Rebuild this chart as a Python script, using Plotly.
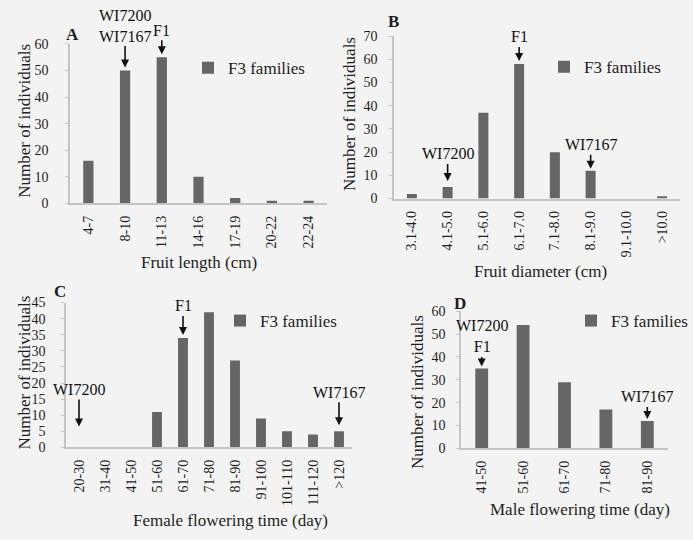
import plotly.graph_objects as go

# ---- data -----------------------------------------------------------------
length_cats = ["4-7", "8-10", "11-13", "14-16", "17-19", "20-22", "22-24"]
length_vals = [16, 50, 55, 10, 2, 1, 1]

diam_cats = ["3.1-4.0", "4.1-5.0", "5.1-6.0", "6.1-7.0", "7.1-8.0", "8.1-9.0",
             "9.1-10.0", ">10.0"]
diam_vals = [2, 5, 37, 58, 20, 12, 0, 1]

female_cats = ["20-30", "31-40", "41-50", "51-60", "61-70", "71-80", "81-90",
               "91-100", "101-110", "111-120", ">120"]
female_vals = [0, 0, 0, 11, 34, 42, 27, 9, 5, 4, 5]

male_cats = ["41-50", "51-60", "61-70", "71-80", "81-90"]
male_vals = [35, 54, 29, 17, 12]

# ---- page geometry (pixels) -----------------------------------------------
W, H = 693, 540
SERIF = "Liberation Serif"
BAR = "#666666"
AXIS = "#c4c4c4"
TXT = "#1e1e1e"
BG = "#f3f3f3"


def xd(left, right):
    return [left / W, right / W]


def yd(top, bottom):
    return [1 - bottom / H, 1 - top / H]


def px(x):
    return x / W


def py(y):
    return 1 - y / H


panels = [
    # (suffix, cats, vals, xdomain, ydomain, ymax, dtick, bar width, y-label gap)
    ("", length_cats, length_vals, xd(70, 327), yd(38, 202), 60, 10, 0.28, 14),
    ("2", diam_cats, diam_vals, xd(394, 680), yd(30, 197), 70, 10, 0.28, 9),
    ("3", female_cats, female_vals, xd(66, 352), yd(304, 453), 45, 5, 0.38, 13),
    ("4", male_cats, male_vals, xd(461, 668), yd(313, 454), 60, 10, 0.31, 8),
]

fig = go.Figure()
layout = {}
for suf, cats, vals, xdom, ydom, ymax, dt, bw, gap in panels:
    fig.add_trace(go.Bar(
        x=cats, y=vals, name="F3 families",
        xaxis="x" + suf, yaxis="y" + suf,
        width=bw,
        marker=dict(color=BAR, line=dict(width=0)),
        legend="legend" + suf,
        showlegend=True,
    ))
    layout["xaxis" + suf] = dict(
        domain=xdom, anchor="y" + suf, type="category",
        range=[-0.5, len(cats) - 0.5],
        showline=True, linecolor=AXIS, linewidth=1.5,
        ticks="", tickangle=-90, ticklabelstandoff=5,
        tickfont=dict(family=SERIF, size=14, color=TXT),
        showgrid=False, zeroline=False,
    )
    layout["yaxis" + suf] = dict(
        domain=ydom, anchor="x" + suf,
        range=[0, ymax], dtick=dt, tick0=0,
        showline=True, linecolor=AXIS, linewidth=1.5,
        ticks="outside", ticklen=3, tickcolor=AXIS,
        ticklabelstandoff=gap,
        tickfont=dict(family=SERIF, size=14, color=TXT),
        showgrid=False, zeroline=False,
    )

# legends, one per panel
legend_pos = {"": (188, 63), "2": (544, 62), "3": (220, 323), "4": (571, 323)}
for suf, (lx, ly) in legend_pos.items():
    layout["legend" + suf] = dict(
        x=px(lx), y=py(ly), xanchor="left", yanchor="middle",
        bgcolor="rgba(0,0,0,0)",
        font=dict(family=SERIF, size=17, color=TXT),
    )

annotations = []

# panel letters
for letter, (x, y) in {"A": (72, 28), "B": (393, 15), "C": (60, 293),
                       "D": (460, 305)}.items():
    annotations.append(dict(
        text="<b>" + letter + "</b>", x=px(x), y=py(y), xref="paper",
        yref="paper", showarrow=False, xanchor="center", yanchor="middle",
        font=dict(family=SERIF, size=17, color=TXT),
    ))

# axis titles
x_titles = [("Fruit length (cm)", 199, 263), ("Fruit diameter (cm)", 540, 272),
            ("Female flowering time (day)", 230, 528),
            ("Male flowering time (day)", 580, 517)]
for t, x, y in x_titles:
    annotations.append(dict(
        text=t, x=px(x), y=py(y), xref="paper", yref="paper",
        showarrow=False, xanchor="center", yanchor="middle",
        font=dict(family=SERIF, size=17, color=TXT),
    ))
y_titles = [(25, 117), (350, 110), (25, 376), (417, 396)]
for x, y in y_titles:
    annotations.append(dict(
        text="Number of individuals", x=px(x), y=py(y), xref="paper",
        yref="paper", showarrow=False, textangle=-90,
        xanchor="center", yanchor="middle",
        font=dict(family=SERIF, size=17, color=TXT),
    ))

# parent / F1 markers: (label, axis suffix, category, value, ay, standoff)
markers = [
    ("WI7200<br>WI7167", "", "8-10", 50, -45, 3),
    ("F1", "", "11-13", 55, -27, 3),
    ("F1", "2", "6.1-7.0", 58, -27, 3),
    ("WI7200", "2", "4.1-5.0", 5, -33, 6),
    ("WI7167", "2", "8.1-9.0", 12, -26, 2),
    ("F1", "3", "61-70", 34, -32, 3),
    ("WI7200", "3", "20-30", 0, -58, 21),
    ("WI7167", "3", ">120", 5, -39, 6),
    ("WI7200<br>F1", "4", "41-50", 35, -32, 2),
    ("WI7167", "4", "81-90", 12, -24, 2),
]
for label, suf, cat, val, ay, so in markers:
    annotations.append(dict(
        text=label, x=cat, y=val, xref="x" + suf, yref="y" + suf,
        showarrow=True, arrowhead=2, arrowsize=1, arrowwidth=1.6,
        arrowcolor="#111111", ax=0, ay=ay, standoff=so,
        font=dict(family=SERIF, size=16, color="#111111"),
    ))

fig.update_layout(
    width=W, height=H,
    margin=dict(l=0, r=0, t=0, b=0),
    font=dict(family=SERIF, color=TXT),
    paper_bgcolor=BG, plot_bgcolor=BG,
    bargap=0.7,
    annotations=annotations,
    **layout,
)

fig.write_html("out.html")
